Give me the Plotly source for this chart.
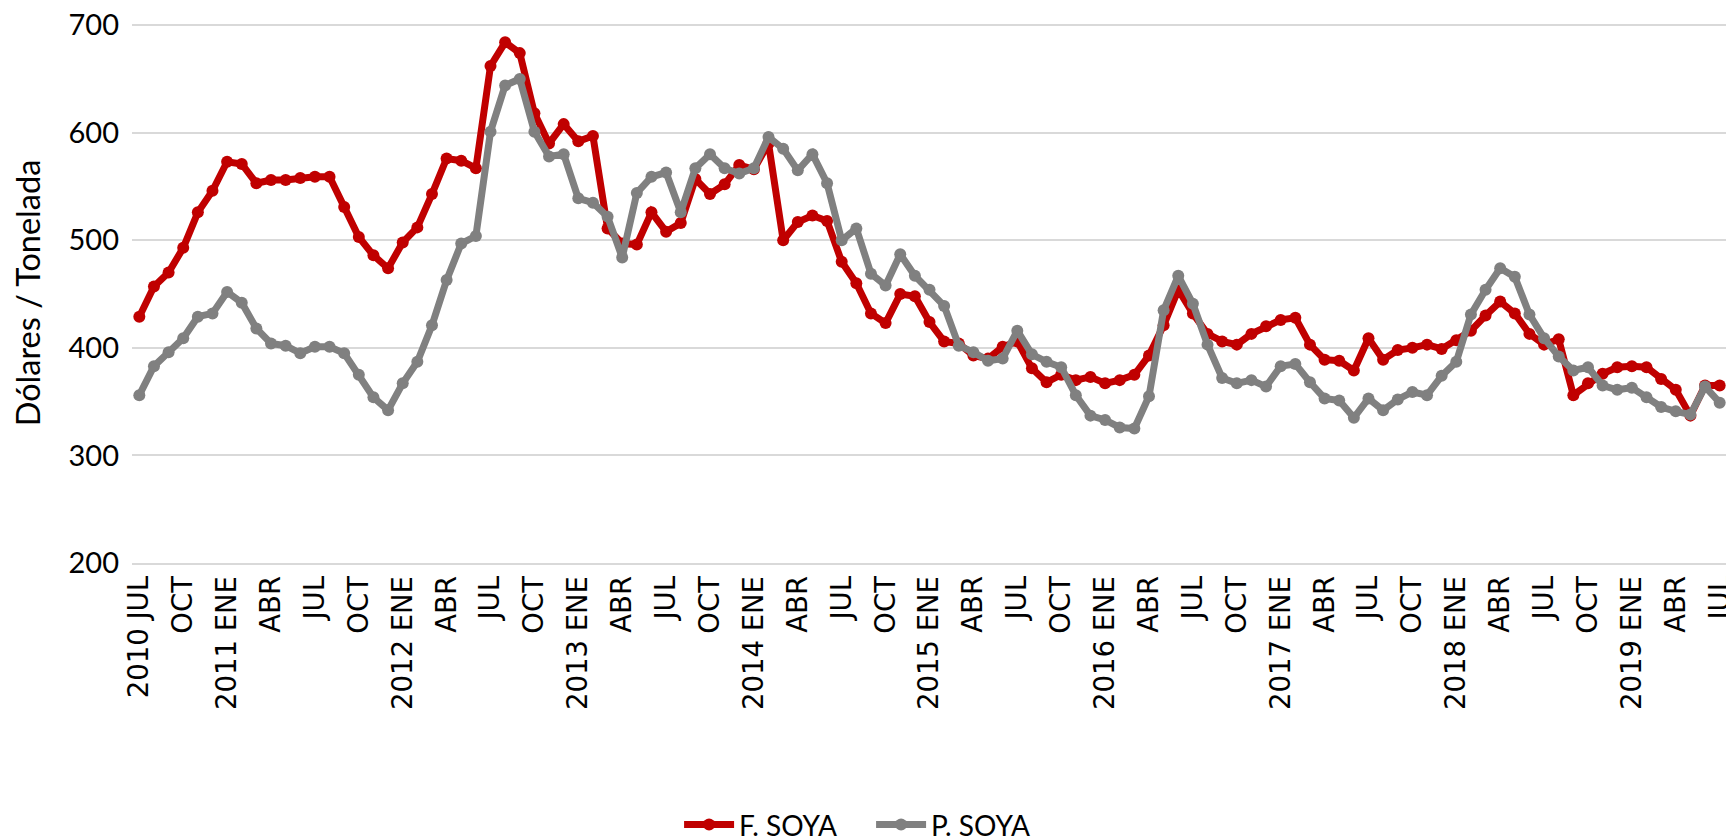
import plotly.graph_objects as go

# -------------------------------------------------
# Data: monthly prices, 2010 JUL .. 2019 JUL
# -------------------------------------------------
MONTHS = ["ENE", "FEB", "MAR", "ABR", "MAY", "JUN",
          "JUL", "AGO", "SEP", "OCT", "NOV", "DIC"]

categories = []
for k in range(109):
    m = (6 + k) % 12
    y = 2010 + (6 + k) // 12
    categories.append(f"{y} {MONTHS[m]}")

f_soya = [
    429, 457, 470, 493, 526, 546, 573, 571, 553, 556, 556, 558,
    559, 559, 531, 503, 486, 474, 498, 512, 543, 576, 574, 567,
    662, 684, 674, 618, 590, 608, 592, 597, 511, 497, 496, 526,
    508, 516, 557, 543, 552, 570, 566, 590, 500, 517, 523, 518,
    480, 460, 432, 423, 450, 448, 424, 406, 404, 393, 390, 401,
    406, 381, 368, 375, 370, 373, 367, 370, 375, 393, 421, 454,
    432, 413, 406, 403, 413, 420, 426, 428, 403, 389, 388, 379,
    409, 389, 398, 400, 403, 399, 407, 416, 430, 443, 432, 413,
    403, 408, 356, 367, 376, 382, 383, 382, 371, 361, 337, 365,
    365,
]

p_soya = [
    356, 383, 396, 409, 429, 432, 452, 442, 418, 404, 402, 395,
    401, 401, 395, 375, 354, 342, 367, 387, 421, 463, 497, 504,
    601, 644, 650, 601, 578, 580, 539, 535, 522, 484, 544, 559,
    563, 526, 567, 580, 567, 562, 567, 596, 585, 565, 580, 553,
    500, 511, 469, 458, 487, 467, 454, 439, 402, 396, 388, 390,
    416, 394, 387, 382, 356, 337, 333, 326, 325, 355, 435, 467,
    441, 403, 372, 367, 370, 364, 383, 385, 368, 353, 351, 335,
    353, 342, 352, 359, 356, 374, 387, 431, 454, 474, 466, 431,
    409, 392, 379, 382, 365, 361, 363, 354, 345, 341, 338, 364,
    349,
]

# tick labels every 3 months; year only on ENE and first point
tick_vals = categories[::3]
tick_text = []
for c in tick_vals:
    year, mon = c.split(" ")
    if mon == "ENE" or c == categories[0]:
        tick_text.append(c)
    else:
        tick_text.append(mon)

fig = go.Figure()
fig.add_trace(go.Scatter(
    x=categories, y=f_soya, name="F. SOYA", mode="lines+markers",
    line=dict(color="#C00000", width=7),
    marker=dict(color="#C00000", size=12),
))
fig.add_trace(go.Scatter(
    x=categories, y=p_soya, name="P. SOYA", mode="lines+markers",
    line=dict(color="#808080", width=7),
    marker=dict(color="#808080", size=12),
))

# page body has an 8px margin, so the figure is sized/offset for it
fig.update_layout(
    width=1726, height=828,
    paper_bgcolor="white", plot_bgcolor="white",
    margin=dict(l=124, r=7, t=15, b=273, autoexpand=False),
    showlegend=True,
    legend=dict(orientation="h", x=0.343, xanchor="left",
                y=-0.485, yanchor="middle", itemwidth=50,
                entrywidth=127,
                font=dict(family="Lato", size=28, color="black")),
)
fig.update_xaxes(
    type="category", range=[-0.5, 108.5],
    tickmode="array", tickvals=tick_vals, ticktext=tick_text,
    tickangle=-90, showgrid=False, showline=True,
    linecolor="#D9D9D9", linewidth=2, ticks="",
    ticklabeloverflow="allow",
    tickfont=dict(family="DejaVu Sans", size=27.5, color="black"),
)
fig.update_yaxes(
    range=[200, 702], tickvals=[200, 300, 400, 500, 600, 700],
    showgrid=True, gridcolor="#D9D9D9", gridwidth=2, zeroline=False,
    ticks="", ticklabelstandoff=12, ticklabeloverflow="allow",
    tickfont=dict(family="Lato", size=29, color="black"),
    title=dict(text="Dólares / Tonelada", standoff=20,
               font=dict(family="Lato", size=32.5, color="black")),
)

fig.write_html("out.html")
